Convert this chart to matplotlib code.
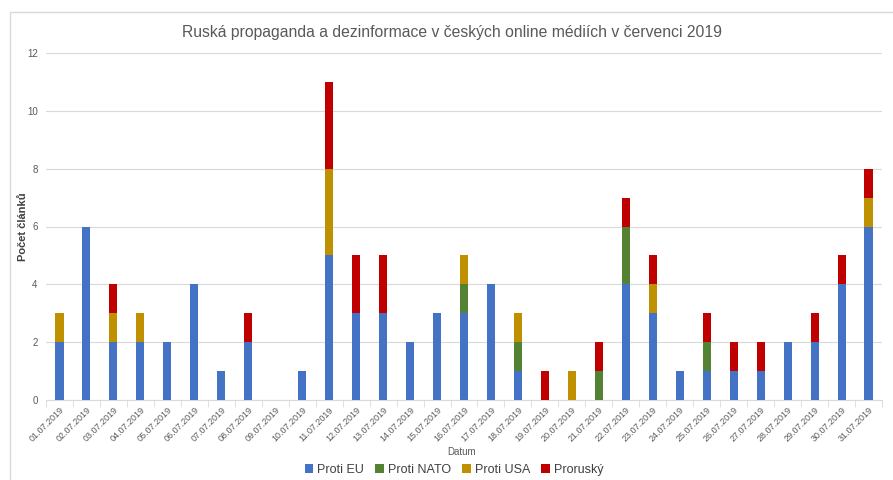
import matplotlib
matplotlib.use("Agg")
import matplotlib.pyplot as plt
import numpy as np
from matplotlib.patches import Rectangle

plt.rcParams['font.family'] = ['Liberation Sans', 'DejaVu Sans']

dates = ["%02d.07.2019" % d for d in range(1, 32)]
proti_eu = [2, 6, 2, 2, 2, 4, 1, 2, 0, 1, 5, 3, 3, 2, 3, 3, 4, 1, 0, 0, 0, 4, 3, 1, 1, 1, 1, 2, 2, 4, 6]
proti_nato = [0, 0, 0, 0, 0, 0, 0, 0, 0, 0, 0, 0, 0, 0, 0, 1, 0, 1, 0, 0, 1, 2, 0, 0, 1, 0, 0, 0, 0, 0, 0]
proti_usa = [1, 0, 1, 1, 0, 0, 0, 0, 0, 0, 3, 0, 0, 0, 0, 1, 0, 1, 0, 1, 0, 0, 1, 0, 0, 0, 0, 0, 0, 0, 1]
prorusky = [0, 0, 1, 0, 0, 0, 0, 1, 0, 0, 3, 2, 2, 0, 0, 0, 0, 0, 1, 0, 1, 1, 1, 0, 1, 1, 1, 0, 1, 1, 1]

series = [
    ("Proti EU", proti_eu, "#4472C4"),
    ("Proti NATO", proti_nato, "#548235"),
    ("Proti USA", proti_usa, "#BF9000"),
    ("Proruský", prorusky, "#C00000"),
]

fig = plt.figure(figsize=(8.93, 4.8), dpi=100)
ax = fig.add_axes([46/893, 1-400/480, (882-46)/893, (400-53)/480])

# ramecek grafu
fig.patches.append(Rectangle((10/893, -0.01), 1.0, 1-12/480+0.01, transform=fig.transFigure,
                             fill=False, edgecolor="#D9D9D9", linewidth=1))

x = np.arange(len(dates))
bottom = np.zeros(len(dates))
for name, vals, col in series:
    ax.bar(x, vals, width=0.3, bottom=bottom, color=col, label=name, zorder=3)
    bottom += np.array(vals)

ax.set_xlim(-0.5, len(dates) - 0.5)
ax.set_ylim(0, 12)
ax.set_yticks(range(0, 13, 2))
ax.grid(axis='y', color="#D9D9D9", linewidth=0.8, zorder=0)
for s in ["top", "right", "left"]:
    ax.spines[s].set_visible(False)
ax.spines["bottom"].set_color("#D9D9D9")

ax.set_xticks(x)
ax.set_xticklabels(dates, rotation=45, ha="right", rotation_mode="anchor",
                   fontsize=6.5, color="#595959")
ax.set_xticks(np.arange(-0.5, len(dates)), minor=True)
ax.tick_params(axis='x', which='major', length=0, pad=4)
ax.tick_params(axis='x', which='minor', length=5, color="#D9D9D9")
ax.tick_params(axis='y', length=0, labelsize=7, labelcolor="#595959", pad=6)

ax.set_ylabel("Počet článků", fontsize=8, fontweight="bold", color="#404040")
ax.yaxis.set_label_coords(-0.022, 0.5)
fig.text(462/893, 1-452/480, "Datum", fontsize=7, color="#595959", ha="center", va="center")
fig.text(452/893, 1-32/480, "Ruská propaganda a dezinformace v českých online médiích v červenci 2019",
         fontsize=11.3, color="#595959", ha="center", va="center")

ax.legend(loc="center", bbox_to_anchor=(454/893, 1-470/480), bbox_transform=fig.transFigure,
          ncol=4, frameon=False, fontsize=9, handlelength=0.7, handleheight=0.7,
          handletextpad=0.3, columnspacing=0.9, labelcolor="#404040")

fig.savefig("out.png", dpi=100)
